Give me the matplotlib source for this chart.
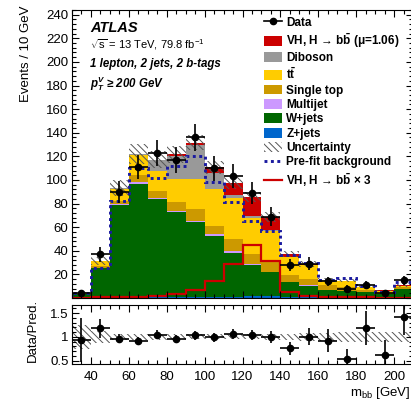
import numpy as np
import matplotlib
matplotlib.use("Agg")
import matplotlib.pyplot as plt
from matplotlib.patches import Patch
from matplotlib.lines import Line2D
from matplotlib.ticker import MultipleLocator, FuncFormatter

plt.rcParams['font.family'] = ['Liberation Sans', 'DejaVu Sans']
plt.rcParams['mathtext.fontset'] = 'custom'
plt.rcParams['mathtext.rm'] = 'Liberation Sans'
plt.rcParams['mathtext.it'] = 'Liberation Sans:italic'
plt.rcParams['mathtext.bf'] = 'Liberation Sans:bold'
plt.rcParams['mathtext.bfit'] = 'Liberation Sans:italic:bold'
plt.rcParams['hatch.linewidth'] = 0.7

# m_bb bins, 10 GeV wide
edges = np.arange(30, 211, 10)
centers = edges[:-1] + 5

# post-fit stack, bottom to top
zjets    = [0.1, 0.5, 1.0, 1.2, 1.2, 1.2, 1.2, 1.2, 1.2, 1.5, 1.5, 1.0, 0.8, 0.5, 0.4, 0.3, 0.2, 0.3]
wjets    = [2.9, 24.5, 77.5, 95.3, 82.3, 71.3, 62.8, 51.5, 36.8, 26.5, 20.2, 12.3, 9.6, 6.5, 5.8, 4.5, 3.3, 7.3]
multijet = [0.1, 0.5, 1.3, 1.4, 1.2, 1.2, 1.0, 1.1, 1.4, 0.5, 0.3, 0.3, 0.3, 0.2, 0.1, 0.1, 0.1, 0.1]
singletop = [0.3, 1.5, 2.2, 6.0, 5.8, 7.3, 10.0, 7.2, 10.5, 8.7, 8.2, 6.0, 5.3, 3.8, 3.0, 1.5, 1.0, 1.2]
ttbar    = [0.8, 4.0, 10.5, 17.0, 17.0, 19.6, 25.4, 31.7, 34.4, 31.0, 26.7, 15.0, 12.0, 3.7, 5.0, 2.6, 1.5, 1.5]
diboson  = [0.0, 0.2, 0.5, 1.0, 9.0, 20.0, 29.0, 13.0, 3.0, 1.5, 1.0, 0.5, 0.3, 0.2, 0.2, 0.2, 0.2, 0.1]
vh       = [0.1, 0.15, 0.3, 0.4, 0.7, 1.2, 2.2, 5.0, 10.0, 15.9, 11.0, 1.9, 0.5, 0.3, 0.2, 0.1, 0.1, 0.1]

vh_x3    = [0.3, 0.5, 0.8, 1.2, 2.0, 3.5, 6.5, 14.5, 28.5, 45.0, 31.0, 5.5, 1.5, 0.8, 0.6, 0.5, 0.4, 0.4]
prefit   = [4.5, 25.5, 82, 110, 102, 112, 120, 98, 81, 65.4, 56.9, 36.5, 30, 15.5, 17.2, 9.9, 5.3, 13.3]
unc_rel  = [0.25, 0.12, 0.07, 0.07, 0.06, 0.06, 0.05, 0.05, 0.05, 0.05, 0.06, 0.07, 0.08, 0.09, 0.10, 0.10, 0.11, 0.11]

data = [4, 37, 90, 111, 123, 117, 136, 110, 103, 89, 69, 28, 29, 14, 8, 11, 4, 15]

stack = [
    (zjets, '#0066cc', 'Z+jets'),
    (wjets, '#006600', 'W+jets'),
    (multijet, '#cc99ff', 'Multijet'),
    (singletop, '#cc9900', 'Single top'),
    (ttbar, '#ffcc00', r'$\mathbf{t\bar{t}}$'),
    (diboson, '#999999', 'Diboson'),
    (vh, '#cc0000', r'VH, H → $\mathbf{b\bar{b}}$ (μ=1.06)'),
]

fig = plt.figure(figsize=(4.11, 4.07), dpi=100)
W, H = 411.0, 407.0
ax = fig.add_axes([72 / W, 1 - 298 / H, 341 / W, 288 / H])
axr = fig.add_axes([72 / W, 1 - 364 / H, 341 / W, 59 / H])

bottom = np.zeros(len(centers))
for vals, col, lab in stack:
    vals = np.array(vals)
    ax.stairs(bottom + vals, edges, baseline=bottom, fill=True, color=col, lw=0)
    bottom = bottom + vals
total = bottom
unc = total * np.array(unc_rel)

ax.stairs(total + unc, edges, baseline=total - unc, fill=True, facecolor='none',
          edgecolor='#555555', hatch='\\\\\\\\\\', lw=0)
ax.stairs(prefit, edges, baseline=0, color='#1a1aa0', ls=(0, (1, 1.2)), lw=2.1)
ax.stairs(vh_x3, edges, baseline=0, color='#cc0000', lw=1.6)

data = np.array(data, dtype=float)
derr = np.sqrt(data)
ax.errorbar(centers, data, yerr=derr, xerr=5, fmt='o', color='black', ms=4.5,
            lw=1.2, capsize=0, zorder=5)

ax.set_xlim(30, 210)
ax.set_ylim(0, 244)
ax.xaxis.set_major_locator(MultipleLocator(20))
ax.xaxis.set_minor_locator(MultipleLocator(5))
ax.yaxis.set_major_locator(MultipleLocator(20))
ax.yaxis.set_minor_locator(MultipleLocator(4))
ax.yaxis.set_major_formatter(FuncFormatter(lambda v, p: '' if v == 0 else f'{v:g}'))
ax.tick_params(axis='x', labelbottom=False)

# ratio panel
ratio = data / total
rerr = derr / total
axr.stairs(1 + np.array(unc_rel), edges, baseline=1 - np.array(unc_rel), fill=True,
           facecolor='none', edgecolor='#555555', hatch='\\\\\\\\\\', lw=0)
axr.errorbar(centers, ratio, yerr=rerr, xerr=5, fmt='o', color='black', ms=4.5,
             lw=1.2, capsize=0, zorder=5)
axr.set_xlim(30, 210)
axr.set_ylim(0.43, 1.67)
axr.xaxis.set_major_locator(MultipleLocator(20))
axr.xaxis.set_minor_locator(MultipleLocator(5))
axr.yaxis.set_major_locator(MultipleLocator(0.5))
axr.yaxis.set_minor_locator(MultipleLocator(0.1))
axr.yaxis.set_major_formatter(FuncFormatter(lambda v, p: f'{v:g}'))

for a in (ax, axr):
    a.tick_params(which='both', direction='in', top=True, right=True, labelsize=9.5)
    a.tick_params(which='major', length=5, width=0.8)
    a.tick_params(which='minor', length=2.7, width=0.8)
    a.tick_params(axis='y', pad=2.5)
axr.tick_params(axis='x', pad=5)

# legend
handles = [Line2D([], [], color='black', marker='o', ms=4.5, lw=1.2)]
labels = ['Data']
for vals, col, lab in stack[::-1]:
    handles.append(Patch(facecolor=col, edgecolor='none'))
    labels.append(lab)
handles.append(Patch(facecolor='none', edgecolor='#555555', hatch='\\\\\\\\\\', lw=0))
labels.append('Uncertainty')
handles.append(Line2D([], [], color='#1a1aa0', ls=(0, (1, 1.2)), lw=2.1))
labels.append('Pre-fit background')
handles.append(Line2D([], [], color='#cc0000', lw=1.6))
labels.append(r'VH, H → $\mathbf{b\bar{b}}$ × 3')
ax.legend(handles, labels, loc='upper left', bbox_to_anchor=(0.54, 1.005),
          frameon=False, prop={'weight': 'bold', 'size': 8.5}, handlelength=1.5,
          handleheight=0.9, handletextpad=0.35, labelspacing=0.2, borderpad=0.2)

# labels
fig.text(90 / W, 1 - 28 / H, 'ATLAS', fontsize=10.5, fontweight='bold',
         fontstyle='italic', va='center', ha='left')
fig.text(90 / W, 1 - 45 / H, r'$\sqrt{\mathrm{s}}$ = 13 TeV, 79.8 fb$^{\mathrm{-1}}$',
         fontsize=8, va='center', ha='left')
fig.text(90 / W, 1 - 64 / H, '1 lepton, 2 jets, 2 b-tags', fontsize=8.3,
         fontweight='bold', fontstyle='italic', va='center', ha='left')
fig.text(90 / W, 1 - 84 / H, r'$\mathbfit{p}_{\mathbfit{T}}^{\mathbfit{V}}$ ≥ 200 GeV',
         fontsize=8.3, fontweight='bold', fontstyle='italic', va='center', ha='left')

fig.text(26 / W, 1 - 5 / H, 'Events / 10 GeV', rotation=90, fontsize=9.5,
         ha='center', va='top')
fig.text(33 / W, 1 - 330 / H, 'Data/Pred.', rotation=90, fontsize=9.5,
         ha='center', va='center')
fig.text(410 / W, 1 - 396 / H, r'm$_{\mathrm{bb}}$ [GeV]', fontsize=9.5,
         ha='right', va='baseline')

fig.savefig('out.png', dpi=100)
